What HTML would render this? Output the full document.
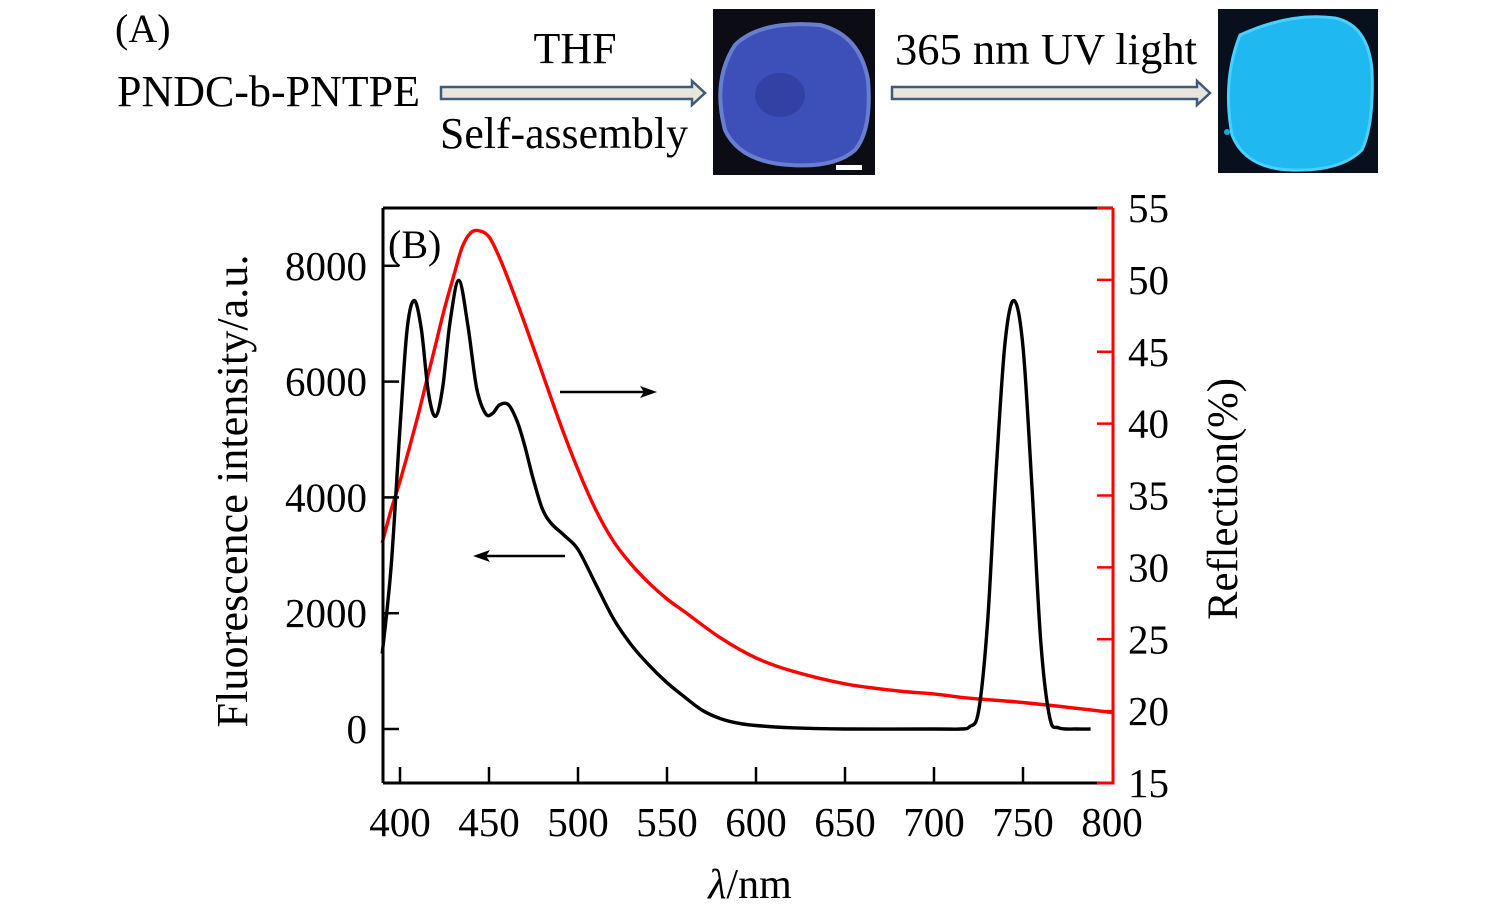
<!DOCTYPE html>
<html><head><meta charset="utf-8">
<style>
html,body{margin:0;padding:0;background:#fff;}
svg{display:block;font-family:"Liberation Serif","Times New Roman",serif;}
</style></head>
<body>
<svg id="fig" width="1496" height="914" viewBox="0 0 1496 914">
  <g>
    <text x="115" y="42" font-size="40">(A)</text>
    <text x="117" y="106" font-size="44" textLength="303" lengthAdjust="spacingAndGlyphs">PNDC-b-PNTPE</text>
    <g>
      <path d="M441,87 L692,87 L692,81 L705,93 L692,105 L692,99 L441,99 Z" fill="#e8e6dc" stroke="#3f5a7a" stroke-width="2.5"/>
    </g>
    <text x="575" y="63" font-size="44" text-anchor="middle">THF</text>
    <text x="564" y="148" font-size="44" text-anchor="middle" textLength="248" lengthAdjust="spacingAndGlyphs">Self-assembly</text>
    <g>
      <rect x="713" y="9" width="162" height="166" fill="#0c0c14"/>
      <path d="M735,45 Q760,20 820,25 Q860,35 868,80 Q872,130 855,150 Q835,168 790,165 Q740,162 725,130 Q712,80 735,45 Z" fill="#3d4fb8" stroke="#6a7ed0" stroke-width="4"/>
      <ellipse cx="780" cy="95" rx="25" ry="22" fill="#2e3c9a" opacity="0.7"/>
      <rect x="836" y="165" width="26" height="5" fill="#fff"/>
    </g>
    <g>
      <path d="M892,87 L1197,87 L1197,81 L1210,93 L1197,105 L1197,99 L892,99 Z" fill="#e8e6dc" stroke="#3f5a7a" stroke-width="2.5"/>
    </g>
    <text x="1046" y="64" font-size="44" text-anchor="middle" textLength="302" lengthAdjust="spacingAndGlyphs">365 nm UV light</text>
    <g>
      <rect x="1218" y="9" width="160" height="164" fill="#07101c"/>
      <path d="M1240,35 Q1290,12 1335,18 Q1368,25 1372,70 Q1374,125 1362,150 Q1340,172 1290,170 Q1245,168 1232,135 Q1222,80 1240,35 Z" fill="#1fb8f0" stroke="#4cd0ff" stroke-width="3"/>
      <circle cx="1227" cy="132" r="3" fill="#1fa8d8"/>
    </g>
  </g>

  <g id="chart">
    <text x="388" y="258" font-size="40">(B)</text>
    <g id="marks"></g>
    <g id="axes"></g>
    <text x="750" y="898" font-size="42" text-anchor="middle"><tspan font-style="italic">λ</tspan>/nm</text>
    <text transform="translate(247,491) rotate(-90)" font-size="44" text-anchor="middle" textLength="473" lengthAdjust="spacingAndGlyphs">Fluorescence intensity/a.u.</text>
    <text transform="translate(1237,499) rotate(-90)" font-size="43" text-anchor="middle" textLength="242" lengthAdjust="spacingAndGlyphs">Reflection(%)</text>
    <g>
      <line x1="560" y1="392" x2="645" y2="392" stroke="#000" stroke-width="2.5"/>
      <path d="M657,392 L640,386 L644,392 L640,398 Z" fill="#000"/>
    </g>
    <g>
      <line x1="565" y1="556" x2="485" y2="556" stroke="#000" stroke-width="2.5"/>
      <path d="M473,556 L490,550 L486,556 L490,562 Z" fill="#000"/>
    </g>
  </g>
</svg>
<script>
const xTicks = [400,450,500,550,600,650,700,750,800];
const yLeftTicks = [0,2000,4000,6000,8000];
const yRightTicks = [15,20,25,30,35,40,45,50,55];
const fluorWavelength = [390,395,400,404,408,412,416,420,424,428,433,438,443,448,452,456,461,466,470,475,480,485,492,500,510,520,530,540,550,560,570,580,590,600,620,650,700,715,720,725,730,735,740,745,750,755,760,765,770,780,788];
const fluorIntensity = [1300,2800,5200,6900,7400,6900,5800,5400,5900,7000,7750,7000,5900,5450,5450,5600,5600,5300,4900,4300,3800,3550,3350,3100,2500,1900,1450,1100,800,550,320,180,100,60,20,0,0,0,40,300,1800,4500,6700,7400,6600,4200,1500,200,20,0,0];
const reflWavelength = [390,395,400,405,410,415,420,425,430,435,440,445,450,455,460,470,480,490,500,510,520,530,540,550,560,580,600,620,650,680,700,720,750,780,800];
const reflPercent = [31.7,34,36,38.2,40.5,43,45.5,48,50.2,52.3,53.3,53.4,53,51.8,50.3,47,43.5,40,36.8,34,31.8,30.2,28.9,27.8,26.9,25.1,23.7,22.8,21.9,21.4,21.2,20.9,20.6,20.2,19.9];

const NS = 'http://www.w3.org/2000/svg';
const X0 = 383, X1 = 1113, Y0 = 208, Y1 = 783;
function xs(v){ return 400 + (v - 400) * 1.78; }
function yl(v){ return 729 - v * 0.0579; }
function yr(v){ return 783 - (v - 15) * 14.375; }

function smoothPath(pts){
  let d = 'M' + pts[0][0].toFixed(1) + ',' + pts[0][1].toFixed(1);
  for (let i = 0; i < pts.length - 1; i++){
    const p0 = pts[Math.max(0,i-1)], p1 = pts[i], p2 = pts[i+1], p3 = pts[Math.min(pts.length-1,i+2)];
    const c1x = p1[0] + (p2[0]-p0[0])/6, c1y = p1[1] + (p2[1]-p0[1])/6;
    const c2x = p2[0] - (p3[0]-p1[0])/6, c2y = p2[1] - (p3[1]-p1[1])/6;
    d += ' C' + c1x.toFixed(1)+','+c1y.toFixed(1)+' '+c2x.toFixed(1)+','+c2y.toFixed(1)+' '+p2[0].toFixed(1)+','+p2[1].toFixed(1);
  }
  return d;
}
function mk(tag, attrs, parent){
  const el = document.createElementNS(NS, tag);
  for (const k in attrs) el.setAttribute(k, attrs[k]);
  parent.appendChild(el);
  return el;
}
const marks = document.getElementById('marks');
const axes = document.getElementById('axes');

const redPts = reflWavelength.map((w,i)=>[xs(w), yr(reflPercent[i])]);
const red = mk('path', {d: smoothPath(redPts), fill:'none', stroke:'#ff0000', 'stroke-width':3.4}, marks);



const blkPts = fluorWavelength.map((w,i)=>[xs(w), yl(fluorIntensity[i])]);
const blk = mk('path', {d: smoothPath(blkPts), fill:'none', stroke:'#000', 'stroke-width':3.4, 'stroke-linejoin':'round'}, marks);



const la = mk('line', {x1:X0, y1:Y0, x2:X0, y2:Y1, stroke:'#000', 'stroke-width':3}, axes);


const ta = mk('line', {x1:X0, y1:Y0, x2:X1, y2:Y0, stroke:'#000', 'stroke-width':3}, axes);


const ba = mk('line', {x1:X0, y1:Y1, x2:1100, y2:Y1, stroke:'#000', 'stroke-width':3}, axes);


const bar2 = mk('line', {x1:1100, y1:Y1, x2:X1, y2:Y1, stroke:'#ff0000', 'stroke-width':3}, axes);


const ra = mk('line', {x1:X1, y1:Y0, x2:X1, y2:Y1+1.5, stroke:'#ff0000', 'stroke-width':3}, axes);



xTicks.forEach(v=>{
  const x = xs(v);
  if (v < 800){
    const t = mk('line', {x1:x, y1:Y1, x2:x, y2:Y1-16, stroke:'#000', 'stroke-width':2.5}, axes);
    
    
  }
  const l = mk('text', {x:x, y:836, 'font-size':41, 'text-anchor':'middle'}, axes);
  l.textContent = v;
  
  
});
yLeftTicks.forEach(v=>{
  const y = yl(v);
  const t = mk('line', {x1:X0, y1:y, x2:X0+16, y2:y, stroke:'#000', 'stroke-width':2.5}, axes);
  
  
  const l = mk('text', {x:367, y:y+14, 'font-size':41, 'text-anchor':'end'}, axes);
  l.textContent = v;
  
  
});
yRightTicks.forEach(v=>{
  const y = yr(v);
  const t = mk('line', {x1:X1, y1:y, x2:X1-16, y2:y, stroke:'#ff0000', 'stroke-width':2.5}, axes);
  
  
  const l = mk('text', {x:1128, y:y+14, 'font-size':41, 'text-anchor':'start'}, axes);
  l.textContent = v;
  
  
});
</script>
</body></html>
